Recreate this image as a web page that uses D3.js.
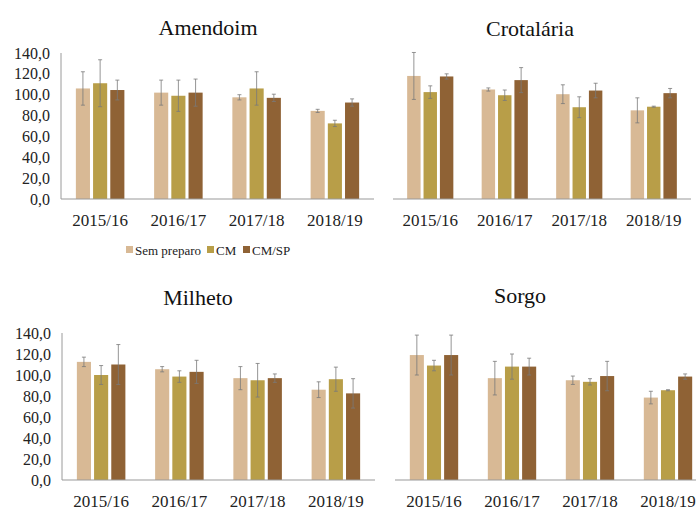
<!DOCTYPE html>
<html>
<head>
<meta charset="UTF-8">
<script src="https://d3js.org/d3.v7.min.js"></script>
<style>
  body { margin: 0; background: #fff; }
  svg { display: block; }
  text { font-family: "Liberation Serif", "Times New Roman", "DejaVu Serif", serif; }
</style>
</head>
<body>
<svg id="chart" width="696" height="510"></svg>
<script>
const safras = ["2015/16", "2016/17", "2017/18", "2018/19"];
const series = ["Sem preparo", "CM", "CM/SP"];
const colors = ["#d8b995", "#b89e48", "#8f6235"];
const yTicks = [0, 20, 40, 60, 80, 100, 120, 140];

// means per crop [safra][series]
const amendoim = [[106, 111, 104.5], [102, 99, 102], [97.5, 106, 97], [84.5, 72.5, 92.5]];
const amendoimErr = [[16, 22.5, 9.5], [12, 15, 13], [2.5, 16, 3.5], [1.5, 3, 3.5]];
const crotalaria = [[118, 102.5, 117.5], [105, 99.5, 114], [100.5, 88, 104], [85, 88.5, 101.5]];
const crotalariaErr = [[22.5, 6, 2.5], [1.5, 5, 12], [9, 10, 7], [12, 0.5, 4.5]];
const milheto = [[112.5, 100, 110], [105.5, 98.5, 103], [97, 95, 97], [86, 96, 82.5]];
const milhetoErr = [[4.5, 9, 19], [2.5, 5.5, 11], [11, 16, 4], [7.5, 11.5, 14]];
const sorgo = [[119, 109, 119], [97, 108, 108], [95, 93.5, 99], [78.5, 85.5, 98.5]];
const sorgoErr = [[19, 5, 19], [16, 12, 8], [4, 3, 14], [6, 0.5, 2.5]];

const panels = [
  { title: "Amendoim", vals: amendoim, errs: amendoimErr, x0: 61, x1: 374, yb: 199, yt: 53, tx: 208, ty: 35, axis: true, legend: true },
  { title: "Crotalária", vals: crotalaria, errs: crotalariaErr, x0: 393, x1: 691, yb: 199, yt: 53, tx: 530, ty: 36, axis: false },
  { title: "Milheto", vals: milheto, errs: milhetoErr, x0: 62, x1: 375, yb: 480, yt: 333, tx: 198, ty: 305, axis: true },
  { title: "Sorgo", vals: sorgo, errs: sorgoErr, x0: 395, x1: 707, yb: 480, yt: 333, tx: 520, ty: 303, axis: false }
];

const FONT = "Liberation Serif";
const svg = d3.select("#chart");
const fmt = v => d3.format(".1f")(v).replace(".", ",");

panels.forEach(p => {
  const g = svg.append("g").attr("font-family", FONT);
  const x = d3.scaleBand().domain(safras).range([p.x0, p.x1]).paddingInner(0.38).paddingOuter(0.19);
  const xs = d3.scaleBand().domain(series).range([0, x.bandwidth()]).paddingInner(0.18);
  const y = d3.scaleLinear().domain([0, 140]).range([p.yb, p.yt]);

  g.append("text")
    .attr("x", p.tx).attr("y", p.ty)
    .attr("text-anchor", "middle")
    .attr("font-size", 22).attr("fill", "#111")
    .text(p.title);

  if (p.axis) {
    g.selectAll(".ytick").data(yTicks).enter().append("text")
      .attr("x", p.x0 - 11).attr("y", d => y(d))
      .attr("dy", "0.35em")
      .attr("text-anchor", "end")
      .attr("font-size", 16).attr("fill", "#222")
      .text(fmt);
    g.append("line")
      .attr("x1", p.x0).attr("x2", p.x0)
      .attr("y1", y(140)).attr("y2", y(0))
      .attr("stroke", "#9a9a9a").attr("stroke-width", 1);
  }

  safras.forEach((s, i) => {
    series.forEach((k, j) => {
      const v = p.vals[i][j], e = p.errs[i][j];
      const bx = x(s) + xs(k);
      g.append("rect")
        .attr("x", bx).attr("y", y(v))
        .attr("width", xs.bandwidth()).attr("height", y(0) - y(v))
        .attr("fill", colors[j]);
      const cx = bx + xs.bandwidth() / 2;
      g.append("line")
        .attr("x1", cx).attr("x2", cx)
        .attr("y1", y(v + e)).attr("y2", y(v - e))
        .attr("stroke", "#7a7a7a").attr("stroke-width", 0.8);
      [v + e, v - e].forEach(t => {
        g.append("line")
          .attr("x1", cx - 2).attr("x2", cx + 2)
          .attr("y1", y(t)).attr("y2", y(t))
          .attr("stroke", "#7a7a7a").attr("stroke-width", 0.8);
      });
    });
  });

  g.append("line")
    .attr("x1", p.x0).attr("x2", p.x1)
    .attr("y1", y(0)).attr("y2", y(0))
    .attr("stroke", "#9a9a9a").attr("stroke-width", 1.2);

  g.selectAll(".xlab").data(safras).enter().append("text")
    .attr("x", d => x(d) + x.bandwidth() / 2)
    .attr("y", p.yb + 27)
    .attr("text-anchor", "middle")
    .attr("font-size", 17).attr("fill", "#222")
    .text(d => d);

  if (p.legend) {
    const lg = g.append("g").attr("transform", "translate(126,250)");
    const offs = [0, 81, 117];
    series.forEach((k, j) => {
      lg.append("rect").attr("x", offs[j]).attr("y", -4).attr("width", 7).attr("height", 7).attr("fill", colors[j]);
      lg.append("text").attr("x", offs[j] + 9).attr("y", 0).attr("dy", "0.35em")
        .attr("font-size", 13).attr("fill", "#222").text(k);
    });
  }
});
</script>
</body>
</html>
